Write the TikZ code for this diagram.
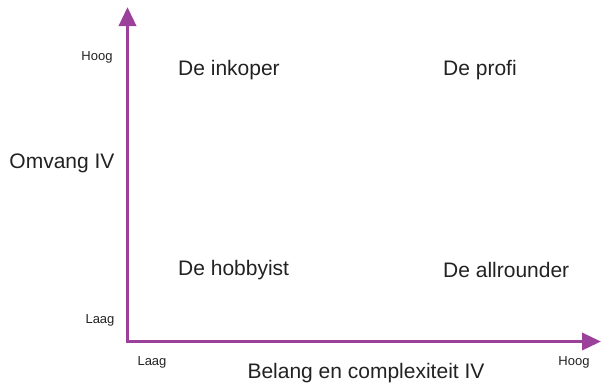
\documentclass[tikz,border=0pt]{standalone}
\usepackage{fontspec}
\setmainfont{Liberation Sans}
\usetikzlibrary{arrows.meta}

\definecolor{axispurple}{RGB}{155,65,155}
\definecolor{labelgray}{RGB}{34,34,34}

\tikzset{
  axis/.style={line width=3.5pt,axispurple,-{Triangle[length=19pt,width=17pt]}},
  quadlabel/.style={anchor=west,inner sep=0pt,text=labelgray,font=\fontsize{21}{24}\selectfont},
  axislabel/.style={inner sep=0pt,text=labelgray,font=\fontsize{21}{24}\selectfont},
  ticklabel/.style={inner sep=0pt,text=labelgray,font=\fontsize{13}{15}\selectfont}
}

\begin{document}
\begin{tikzpicture}[x=1pt,y=-1pt]
\useasboundingbox (0,0) rectangle (601,384);

\coordinate (o) at (127.5,341.5);
\coordinate (ytop) at (127.5,7);
\coordinate (xend) at (601,341.5);

  \draw[axis] (o) -- (ytop);
  \draw[axis] ([xshift=-1.75pt]o) -- (xend);

\node[ticklabel] (yhigh) at (97,57) {Hoog};
\node[ticklabel] (ylow) at (100,320) {Laag};
\node[ticklabel] (xlow) at (152,362) {Laag};
\node[ticklabel] (xhigh) at (574,362) {Hoog};

\node[axislabel] (ytitle) at (62,163) {Omvang IV};
\node[axislabel] (xtitle) at (366,373) {Belang en complexiteit IV};

\node[quadlabel] (inkoper) at (178,70) {De inkoper};
\node[quadlabel] (profi) at (443,70) {De profi};
\node[quadlabel] (hobbyist) at (178,270) {De hobbyist};
\node[quadlabel] (allrounder) at (443,270) {De allrounder};
\end{tikzpicture}
\end{document}
